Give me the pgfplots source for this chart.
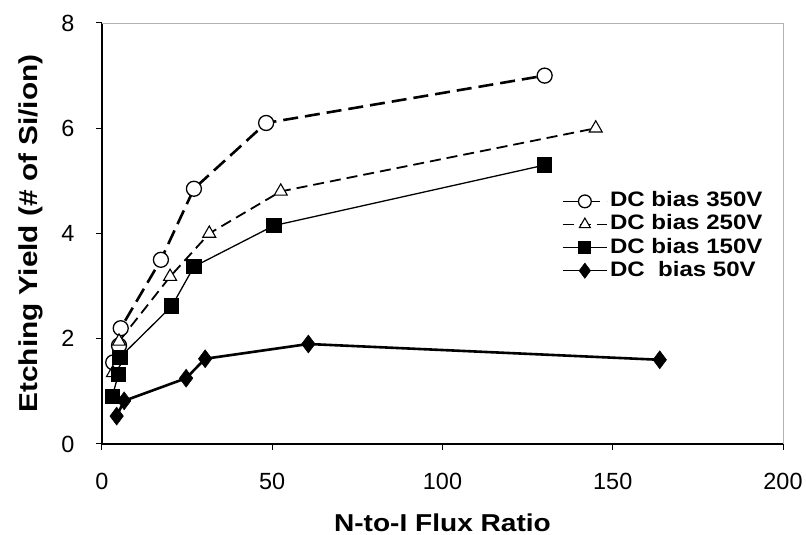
\documentclass[border=0pt]{standalone}
\usepackage{fontspec}
\setmainfont{Liberation Sans}
\newfontfamily\boldwide{Liberation Sans}[FakeStretch=1.15]
\usepackage{pgfplots}
\pgfplotsset{compat=1.18}
\usetikzlibrary{calc}

\begin{document}
\begin{tikzpicture}
\begin{axis}[
  name=main,
  scale only axis,
  width=681bp, height=421bp,
  xmin=0, xmax=200, ymin=0, ymax=8,
  xtick={0,50,100,150,200},
  ytick={0,2,4,6,8},
  axis x line*=bottom, axis y line*=left,
  axis line style={black, line width=1.2bp, -},
  tick align=outside,
  major tick length=6bp,
  tick style={black, line width=1bp},
  /pgf/number format/assume math mode=true,
  ticklabel style={font=\fontsize{23.5}{26}\selectfont},
  xticklabel style={yshift=-20bp},
  yticklabel style={xshift=-18bp},
  xlabel={N-to-I Flux Ratio},
  ylabel={Etching Yield (\# of Si/ion)},
  label style={font=\boldwide\bfseries\fontsize{24.5}{28}\selectfont},
  xlabel style={at={(axis description cs:0.5,-0.2067)}, anchor=base},
  ylabel style={at={(axis description cs:-0.0954,0.5)}, anchor=base,
                font=\boldwide\bfseries\fontsize{26}{28}\selectfont},
  clip=false,
  legend cell align=left,
  legend style={
    at={(axis description cs:0.6755,0.5993)}, anchor=north west,
    draw=none, fill=none, inner sep=0pt, row sep=4.1bp,
    font=\boldwide\bfseries\fontsize{21}{24}\selectfont,
    nodes={inner ysep=0pt, inner xsep=2.5bp, text height=15bp, text depth=4bp},
  },
  legend image code/.code={
    \draw[#1, line width=1.3bp, mark repeat=2, mark phase=2,
          /tikz/every mark/.append style={scale=0.85}]
      plot coordinates {(0bp,0bp) (22bp,0bp) (44bp,0bp)};
  },
]

% DC bias 350 V
\addplot[black, line width=2.6bp, dash pattern=on 15bp off 7bp,
  mark=*, mark size=7.5bp, mark options={solid, fill=white, draw=black, line width=1.3bp}]
  coordinates {(3.3,1.55) (5,1.87) (5.5,2.2) (17.3,3.5) (27,4.85) (48.2,6.1) (130,7.0)};
\addlegendentry{DC bias 350V}

% DC bias 250 V
\addplot[black, line width=1.8bp, dash pattern=on 11bp off 6bp,
  mark=triangle*, mark size=7.5bp, mark options={solid, fill=white, draw=black, line width=1.1bp}]
  coordinates {(3.2,1.35) (5,1.95) (20,3.18) (31.5,4.0) (52.5,4.8) (145,6.0)};
\addlegendentry{DC bias 250V}

% DC bias 150 V
\addplot[black, line width=1.3bp,
  mark=square*, mark size=7bp, mark options={solid, fill=black, draw=black}]
  coordinates {(3,0.9) (4.8,1.32) (5.3,1.65) (20.5,2.62) (27,3.37) (50.5,4.15) (130,5.3)};
\addlegendentry{DC bias 150V}

% DC bias 50 V
\addplot[black, line width=2.6bp,
  mark=diamond*, mark size=9bp, mark options={solid, fill=black, draw=black, line width=0.5bp}]
  coordinates {(4.3,0.53) (6.5,0.82) (24.7,1.25) (30.3,1.62) (60.6,1.9) (163.8,1.6)};
\addlegendentry{DC\ \ bias 50V}

% light frame on the top and right sides
\draw[gray!60, line width=0.8bp] (rel axis cs:0,1) -- (rel axis cs:1,1) -- (rel axis cs:1,0);
\end{axis}
\path ($(main.south west)+(-102bp,-91bp)$) rectangle ($(main.north east)+(23bp,23bp)$);
\end{tikzpicture}
\end{document}
